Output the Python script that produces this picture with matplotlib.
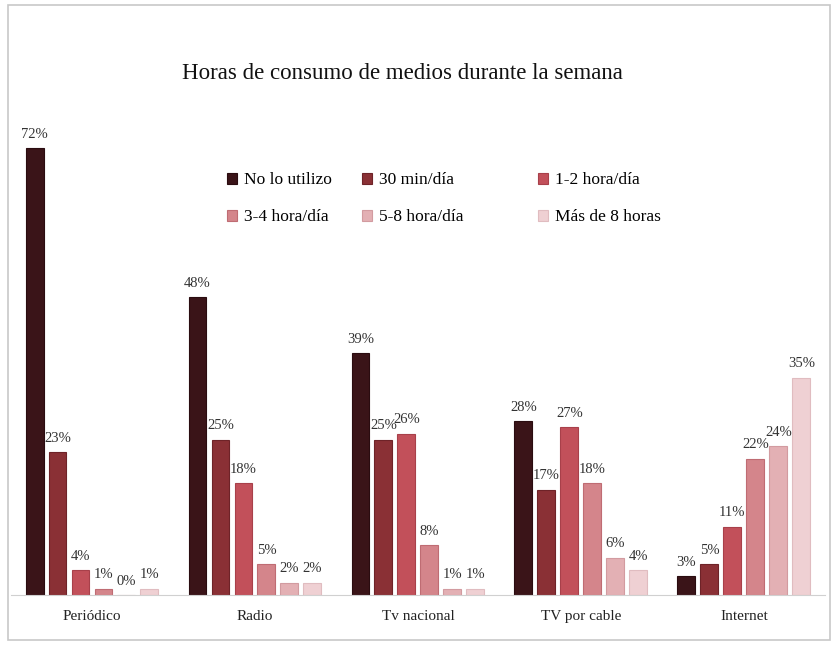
import numpy as np
import matplotlib.pyplot as plt

medios = ['Periódico', 'Radio', 'Tv nacional', 'TV por cable', 'Internet']
series = ['No lo utilizo', '30 min/día', '1-2 hora/día',
          '3-4 hora/día', '5-8 hora/día', 'Más de 8 horas']

no_utilizo = [72, 48, 39, 28, 3]
min_30 = [23, 25, 25, 17, 5]
h_1_2 = [4, 18, 26, 27, 11]
h_3_4 = [1, 5, 8, 18, 22]
h_5_8 = [0, 2, 1, 6, 24]
mas_8 = [1, 2, 1, 4, 35]

valores = [no_utilizo, min_30, h_1_2, h_3_4, h_5_8, mas_8]
colores = ['#3a1418', '#8a3035', '#c2505a', '#d4858b', '#e3b0b4', '#efd0d3']
bordes = ['#2a0c10', '#6e2328', '#a8404a', '#bf6c73', '#d29ba0', '#e0bcc0']

plt.rcParams['font.family'] = ['Liberation Serif', 'DejaVu Serif']

fig = plt.figure(figsize=(8.34, 6.48), dpi=100)
# marco gris alrededor del gráfico
fig.patches.append(plt.Rectangle((0.010, 0.012), 0.985, 0.980, transform=fig.transFigure,
                                 fill=False, edgecolor='#c8c8c8', linewidth=1.2))
ax = fig.add_axes([0.0126, 0.0818, 0.977, 0.764])

x = np.arange(len(medios))
ancho = 0.11
paso = 0.141
barras_serie = []
for i, vals in enumerate(valores):
    pos = x + (i - 2.5) * paso
    barras = ax.bar(pos, vals, ancho, color=colores[i], edgecolor=bordes[i],
                    linewidth=0.8, label=series[i])
    barras_serie.append(barras)
    for b, v in zip(barras, vals):
        ax.text(b.get_x() + b.get_width() / 2, v + 1.2, '%d%%' % v,
                ha='center', va='bottom', fontsize=10.5, color='#333333')

ax.set_xlim(-0.5, 4.5)
ax.set_ylim(0, 79.8)
ax.set_xticks(x)
ax.set_xticklabels(medios, fontsize=11, color='#222222')
ax.tick_params(axis='x', length=0, pad=11)
ax.set_yticks([])
for lado in ['top', 'right', 'left']:
    ax.spines[lado].set_visible(False)
ax.spines['bottom'].set_color('#d0d0d0')

fig.text(0.483, 0.887, 'Horas de consumo de medios durante la semana',
         ha='center', va='center', fontsize=16.5, color='#111111')

# leyenda en dos filas: una leyenda por columna para fijar su posición
col_x = [0.272, 0.434, 0.645]
for c in range(3):
    idx = [c, c + 3]
    leg = fig.legend([barras_serie[k] for k in idx], [series[k] for k in idx],
                     loc='upper left', bbox_to_anchor=(col_x[c], 0.734),
                     frameon=False, fontsize=12.5, handlelength=0.6,
                     handleheight=0.6, handletextpad=0.4, labelspacing=1.2,
                     borderpad=0, borderaxespad=0)

fig.savefig('out.png', dpi=100, facecolor='white')
